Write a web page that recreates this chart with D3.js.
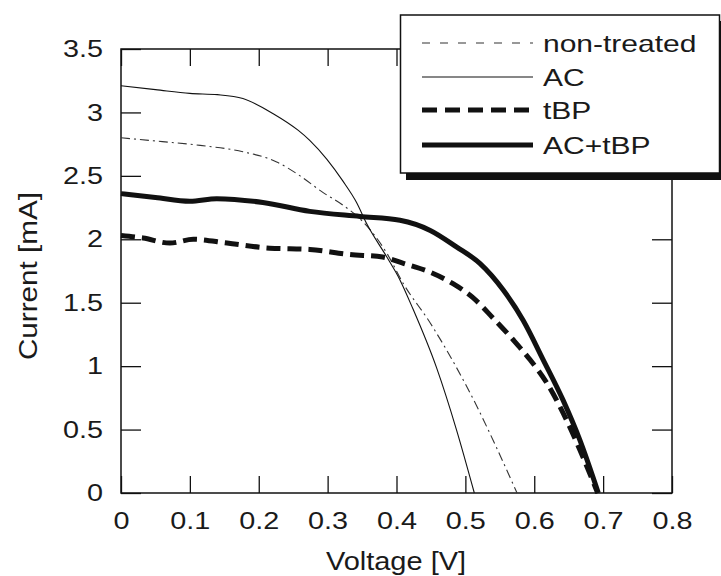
<!DOCTYPE html>
<html>
<head>
<meta charset="utf-8">
<script src="https://cdn.jsdelivr.net/npm/d3@7"></script>
<style>
  body { margin: 0; background: #fff; }
  svg { display: block; }
  text { font-family: "Liberation Sans", Arial, sans-serif; fill: #1a1a1a; }
</style>
</head>
<body>
<svg id="chart"></svg>
<script>
// series: [voltage V, current mA]
const nonTreated = [[0,2.80],[0.06,2.77],[0.115,2.74],[0.177,2.69],[0.226,2.61],[0.26,2.50],[0.293,2.37],[0.322,2.27],[0.351,2.14],[0.386,1.89],[0.41,1.65],[0.449,1.34],[0.487,0.99],[0.517,0.68],[0.545,0.36],[0.575,0]];
const acOnly = [[0,3.21],[0.05,3.18],[0.1,3.15],[0.14,3.14],[0.177,3.11],[0.221,2.99],[0.257,2.86],[0.274,2.78],[0.299,2.63],[0.322,2.46],[0.342,2.29],[0.357,2.12],[0.386,1.86],[0.405,1.68],[0.424,1.45],[0.458,0.99],[0.487,0.50],[0.513,0]];
const tbpOnly = [[0,2.03],[0.032,2.01],[0.071,1.97],[0.105,2.0],[0.154,1.97],[0.216,1.93],[0.274,1.92],[0.332,1.88],[0.38,1.86],[0.41,1.81],[0.449,1.74],[0.482,1.65],[0.511,1.54],[0.54,1.38],[0.569,1.21],[0.594,1.05],[0.618,0.87],[0.642,0.63],[0.671,0.28],[0.692,0]];
const acTbp = [[0,2.36],[0.05,2.33],[0.1,2.30],[0.139,2.32],[0.206,2.29],[0.274,2.22],[0.347,2.18],[0.405,2.15],[0.449,2.07],[0.487,1.94],[0.521,1.81],[0.555,1.60],[0.584,1.36],[0.613,1.05],[0.642,0.73],[0.666,0.42],[0.693,0]];

const xTicks = [0, 0.1, 0.2, 0.3, 0.4, 0.5, 0.6, 0.7, 0.8];
const yTicks = [0, 0.5, 1, 1.5, 2, 2.5, 3, 3.5];
const legendNames = ["non-treated", "AC", "tBP", "AC+tBP"];

const width = 721, height = 576;
const plot = { left: 121, right: 672, top: 49, bottom: 493 };
const wide = 1.2; // the lettering in the original is stretched sideways

const svg = d3.select("#chart").attr("width", width).attr("height", height);

const x = d3.scaleLinear().domain([0, 0.8]).range([plot.left, plot.right]);
const y = d3.scaleLinear().domain([0, 3.5]).range([plot.bottom, plot.top]);

// axes, ticks point inward
const xAxis = d3.axisBottom(x).tickValues(xTicks).tickSizeInner(-17).tickSizeOuter(0).tickPadding(19)
  .tickFormat(d => d === 0 ? "0" : d3.format(".1f")(d));
const yAxis = d3.axisLeft(y).tickValues(yTicks).tickSizeInner(-20).tickSizeOuter(0).tickPadding(18)
  .tickFormat(d => d % 1 === 0 ? String(d) : d3.format(".1f")(d));
const xTop = d3.axisTop(x).tickValues(xTicks).tickSizeInner(-17).tickSizeOuter(0).tickFormat("");
const yRight = d3.axisRight(y).tickValues(yTicks).tickSizeInner(-20).tickSizeOuter(0).tickFormat("");

function styleAxis(g) {
  g.select(".domain").remove();
  g.selectAll(".tick line").attr("stroke", "#111").attr("stroke-width", 1.3);
  g.selectAll(".tick text")
    .attr("font-size", 24)
    .attr("font-family", "Liberation Sans")
    .attr("fill", "#1a1a1a")
    .attr("transform", `scale(${wide},1)`);
}

svg.append("g").attr("transform", `translate(0,${plot.bottom})`).call(xAxis).call(styleAxis);
svg.append("g").attr("transform", `translate(${plot.left},0)`).call(yAxis).call(styleAxis)
  .selectAll(".tick text").attr("x", -18 / wide);
svg.append("g").attr("transform", `translate(0,${plot.top})`).call(xTop).call(styleAxis);
svg.append("g").attr("transform", `translate(${plot.right},0)`).call(yRight).call(styleAxis);

svg.append("rect")
  .attr("x", plot.left).attr("y", plot.top)
  .attr("width", plot.right - plot.left).attr("height", plot.bottom - plot.top)
  .attr("fill", "none").attr("stroke", "#111").attr("stroke-width", 1.5);

// curves
const line = d3.line().x(d => x(d[0])).y(d => y(d[1])).curve(d3.curveMonotoneX);

const styles = [
  { data: nonTreated, width: 1.1, dash: "9,4,2,4", color: "#333" },
  { data: acOnly, width: 1.1, dash: null, color: "#111" },
  { data: tbpOnly, width: 5, dash: "14,7", color: "#111" },
  { data: acTbp, width: 5, dash: null, color: "#111" }
];

svg.selectAll(".curve")
  .data(styles)
  .join("path")
    .attr("class", "curve")
    .attr("d", d => line(d.data))
    .attr("fill", "none")
    .attr("stroke", d => d.color)
    .attr("stroke-width", d => d.width)
    .attr("stroke-dasharray", d => d.dash)
    .attr("stroke-linejoin", "round");

// axis titles
svg.append("text")
  .attr("transform", `translate(396,570) scale(1.16,1)`)
  .attr("text-anchor", "middle")
  .attr("font-size", 25)
  .text("Voltage [V]");

svg.append("text")
  .attr("transform", "translate(37,276) rotate(-90) scale(1.12,1)")
  .attr("text-anchor", "middle")
  .attr("font-size", 26.5)
  .text("Current [mA]");

// legend with drop shadow
const lg = svg.append("g");
lg.append("rect").attr("x", 406).attr("y", 21).attr("width", 320).attr("height", 159).attr("fill", "#111");
lg.append("rect").attr("x", 400.5).attr("y", 15).attr("width", 319).attr("height", 158)
  .attr("fill", "#fff").attr("stroke", "#111").attr("stroke-width", 1.5);

const rowY = [43, 77, 110, 145];
legendNames.forEach((name, i) => {
  const s = styles[i];
  lg.append("line")
    .attr("x1", 422).attr("x2", 533)
    .attr("y1", rowY[i]).attr("y2", rowY[i])
    .attr("stroke", s.color)
    .attr("stroke-width", s.width)
    .attr("stroke-dasharray", i === 0 ? "8,10" : (i === 2 ? "15,8" : null));
  lg.append("text")
    .attr("transform", `translate(543,${rowY[i] + 9}) scale(1.25,1)`)
    .attr("font-size", 24)
    .text(name);
});
</script>
</body>
</html>
